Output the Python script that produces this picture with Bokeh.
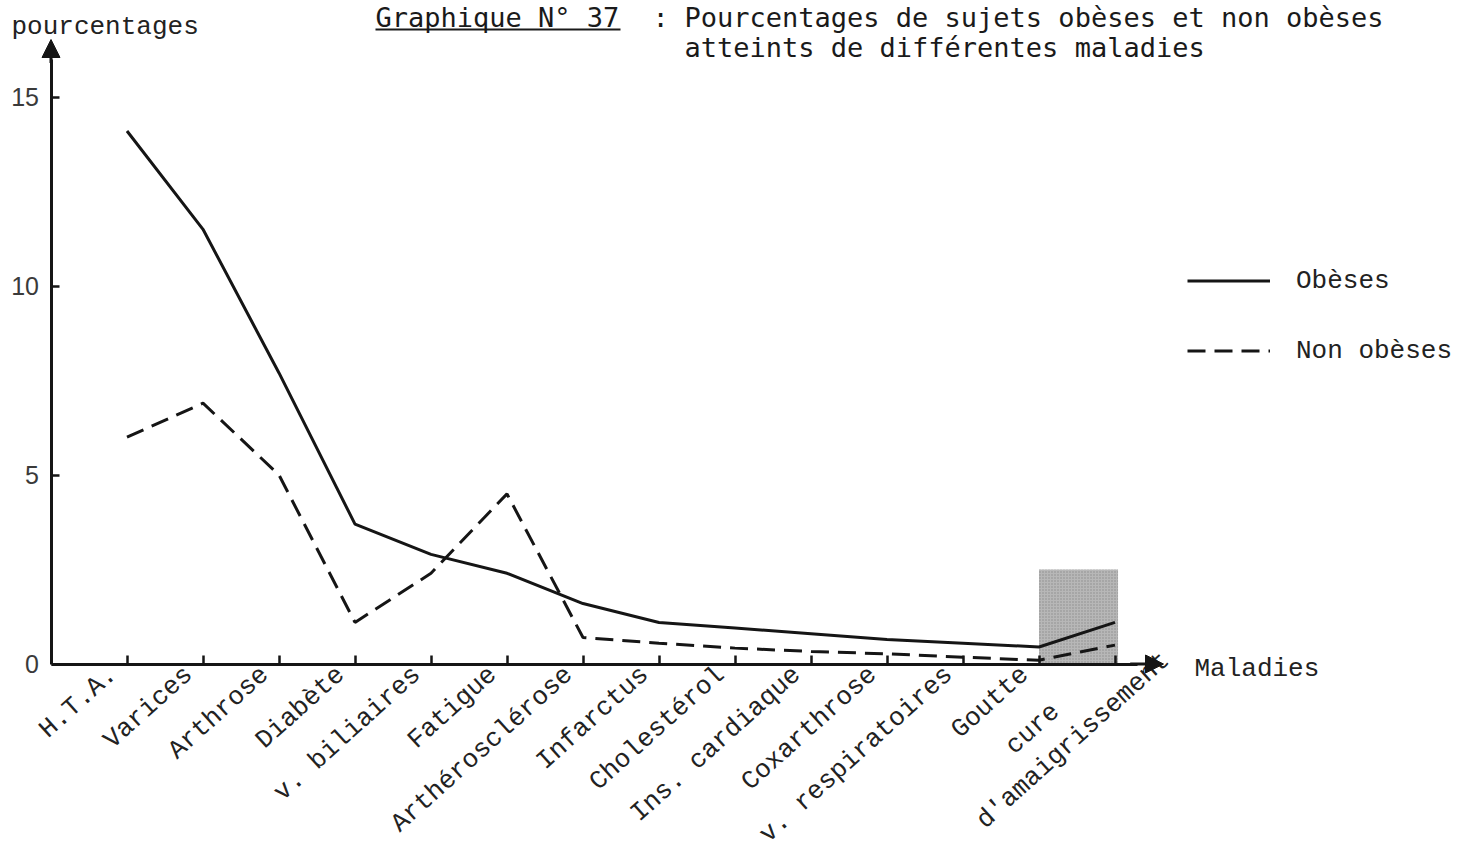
import math
from bokeh.plotting import figure
from bokeh.models import (Range1d, LinearAxis, FixedTicker, Arrow, NormalHead,
                          Legend, LegendItem)
from bokeh.core.properties import value
from bokeh.embed import file_html
from bokeh.resources import INLINE

# ---------------- data ----------------
categories = ["H.T.A.", "Varices", "Arthrose", "Diabète", "v. biliaires", "Fatigue",
              "Arthérosclérose", "Infarctus", "Cholestérol", "Ins. cardiaque",
              "Coxarthrose", "v. respiratoires", "Goutte", "cure d'amaigrissement"]
obeses = [14.1, 11.5, 7.7, 3.7, 2.9, 2.4, 1.6, 1.1, 0.95, 0.8, 0.65, 0.55, 0.45, 1.1]
non_obeses = [6.0, 6.9, 5.0, 1.1, 2.4, 4.5, 0.7, 0.55, 0.42, 0.33, 0.27, 0.18, 0.1, 0.5]
y_ticks = [0, 5, 10, 15]
series_names = ["Obèses", "Non obèses"]
y_title = "pourcentages"
x_title = "Maladies"
title_ref = "Graphique N° 37"
title_line1 = "Pourcentages de sujets obèses et non obèses"
title_line2 = "atteints de différentes maladies"

# ---------------- layout (page pixel -> data) ----------------
W, H = 1460, 848
X0, PX_CAT = 126.5, 76.0      # page x of first category, px per category
Y0, PX_UNIT = 663.5, 37.8     # page y of value 0, px per percent


def sx(px):
    return (px - X0) / PX_CAT


def sy(py):
    return (Y0 - py) / PX_UNIT


p = figure(width=W, height=H,
           x_range=Range1d(sx(0), sx(W)), y_range=Range1d(sy(H), sy(0)),
           x_axis_type=None, y_axis_type=None, toolbar_location=None,
           output_backend="svg", min_border=0, outline_line_color=None,
           background_fill_color="white", border_fill_color="white")
p.xgrid.visible = False
p.ygrid.visible = False

INK = "#151515"
TXT = "#222222"
MONO = "Liberation Mono"
LABEL_ANGLE = math.radians(42)

idx = list(range(len(categories)))

# scanned grey patch over the last two categories
p.quad(left=[categories.index("Goutte")], right=[idx[-1] + 0.04], bottom=[0], top=[2.5],
       fill_color="#aaaaaa", fill_alpha=0.85, line_color=None,
       hatch_pattern="dot", hatch_color="#4a4a4a", hatch_alpha=0.4, hatch_scale=3)

# series
r1 = p.line(idx, obeses, line_width=3, line_color=INK)
r2 = p.line(idx, non_obeses, line_width=3, line_color=INK, line_dash="18 9")

# y axis
yaxis = LinearAxis(fixed_location=-1, ticker=FixedTicker(ticks=y_ticks),
                   bounds=(0, 16.0))
yaxis.axis_line_width = 3
yaxis.axis_line_color = INK
yaxis.major_tick_in = 8
yaxis.major_tick_out = 0
yaxis.major_tick_line_width = 2.5
yaxis.major_tick_line_color = INK
yaxis.minor_tick_line_color = None
yaxis.major_label_standoff = 12
yaxis.major_label_text_font = "Liberation Sans"
yaxis.major_label_text_font_size = "25px"
yaxis.major_label_text_color = "#3a3a3a"
p.add_layout(yaxis, "left")

# x axis (labels drawn below as rotated texts, like the typed original)
xaxis = LinearAxis(fixed_location=0, ticker=FixedTicker(ticks=idx),
                   bounds=(-1, 13.3))
xaxis.major_label_overrides = {i: "" for i in idx}
xaxis.axis_line_width = 3
xaxis.axis_line_color = INK
xaxis.major_tick_in = 9
xaxis.major_tick_out = 0
xaxis.major_tick_line_width = 2.5
xaxis.major_tick_line_color = INK
xaxis.minor_tick_line_color = None
p.add_layout(xaxis, "below")

# category labels, rotated, ending just below-left of each tick
LBL = dict(angle=LABEL_ANGLE, text_font=value(MONO), text_font_size=value("26px"),
           text_color=TXT, text_align="right", text_baseline="middle")
single = idx[:-1]
p.text(x=single, y=[0] * len(single), text=categories[:-1],
       x_offset=-14, y_offset=7, **LBL)
# last label typed on two lines
last_first, last_second = categories[-1].split(" ", 1)
p.text(x=[idx[-1]], y=[0], text=[last_second], x_offset=51, y_offset=-7, **LBL)
p.text(x=[idx[-1]], y=[0], text=[last_first], x_offset=-59, y_offset=44, **LBL)

# axis arrows
p.add_layout(Arrow(end=NormalHead(size=18, fill_color=INK, line_color=INK),
                   x_start=-1, y_start=15.9, x_end=-1, y_end=sy(39),
                   line_width=3, line_color=INK))
p.add_layout(Arrow(end=NormalHead(size=18, fill_color=INK, line_color=INK),
                   x_start=13.2, y_start=0, x_end=sx(1163), y_end=0,
                   line_width=3, line_color=INK))

# axis titles
p.text(x=[sx(11)], y=[sy(26)], text=[y_title], text_font=value(MONO),
       text_font_size=value("26px"), text_color=TXT,
       text_baseline="middle", text_align="left")
p.text(x=[sx(1194)], y=[sy(668)], text=[x_title], text_font=value(MONO),
       text_font_size=value("26px"), text_color=TXT,
       text_baseline="middle", text_align="left")

# title
TFONT = value("DejaVu Sans Mono")
p.text(x=[sx(375), sx(652), sx(684), sx(684)],
       y=[sy(17), sy(17), sy(17), sy(47)],
       text=[title_ref, ":", title_line1, title_line2],
       text_font=TFONT, text_font_size=value("27px"), text_color="#1a1a1a",
       text_baseline="middle", text_align="left")
p.segment(x0=[sx(375)], y0=[sy(29)], x1=[sx(620)], y1=[sy(29)],
          line_width=2, line_color="#1a1a1a")

# legend
legend = Legend(items=[LegendItem(label=series_names[0], renderers=[r1]),
                       LegendItem(label=series_names[1], renderers=[r2])],
                location=(1187, 482), orientation="vertical",
                border_line_color=None, background_fill_alpha=0,
                glyph_width=83, glyph_height=31, label_height=31,
                label_standoff=26, spacing=39, padding=0, margin=0,
                label_text_font=MONO, label_text_font_size="26px",
                label_text_color=TXT)
p.add_layout(legend)

open("out.html", "w").write(file_html(p, INLINE))
